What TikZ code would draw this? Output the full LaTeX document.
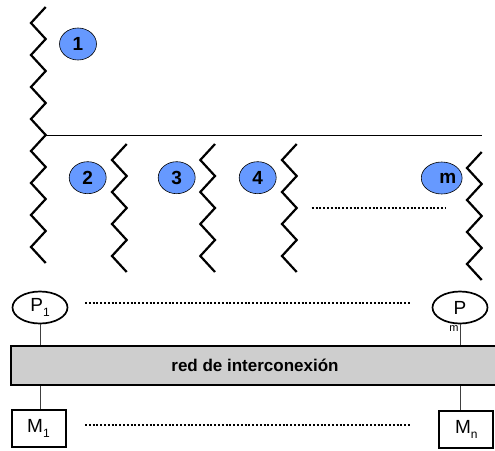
\documentclass[tikz,border=0pt]{standalone}
\usepackage{fontspec}
\setmainfont{Liberation Sans}
\usepackage{tikz}
\usetikzlibrary{shapes.geometric,positioning}
\definecolor{numblue}{RGB}{102,153,255}
\definecolor{netgray}{RGB}{206,206,206}
\newcommand\lowidx[1]{\raisebox{-5pt}{\fontsize{12}{12}\selectfont #1}}
\tikzset{
    % 锯齿线
    sawline/.style={line width=2.2pt, black, line join=miter},
    numcircle/.style={ellipse, draw=black, line width=0.6pt, fill=numblue,
        minimum width=37pt, minimum height=32pt, inner sep=0pt,
        font=\fontsize{19}{19}\selectfont\bfseries},
    proc/.style={ellipse, draw=black, line width=1.7pt, minimum width=55pt,
        minimum height=32pt, inner sep=0pt, font=\fontsize{19}{19}\selectfont},
    mem/.style={rectangle, draw=black, line width=2pt, minimum width=54pt,
        minimum height=37pt, inner sep=0pt, font=\fontsize{19}{19}\selectfont},
    wire/.style={line width=0.8pt, black!75},
    dotline/.style={line width=2.2pt, dash pattern=on 2pt off 1.8pt}
}
\begin{document}
\begin{tikzpicture}[x=1pt,y=-1pt]
   \useasboundingbox (0,0) rectangle (495,450);
   \path
    (311.7,207.7) coordinate (d1)
    (445,207.7)   coordinate (d2)
    (85,303)      coordinate (d3)
    (410,303)     coordinate (d4)
    (85,425)      coordinate (d5)
    (410,425)     coordinate (d6)
    ;

   % 主锯齿线和横线
   \draw[sawline] (45.7,7) \foreach \k in {1,...,8} { -- ++(-14.7,16) -- ++(14.7,16) };
   \draw[line width=1pt] (45.7,135) -- (482,135);

   % 下面的锯齿线
   \draw[sawline] (126.7,144) \foreach \k in {1,...,4} { -- ++(-14.7,16) -- ++(14.7,16) };
   \draw[sawline] (215,144)   \foreach \k in {1,...,4} { -- ++(-14.7,16) -- ++(14.7,16) };
   \draw[sawline] (296.7,144) \foreach \k in {1,...,4} { -- ++(-14.7,16) -- ++(14.7,16) };
   \draw[sawline] (481.7,152) \foreach \k in {1,...,4} { -- ++(-14.7,16) -- ++(14.7,16) };

   % 编号
   \node[numcircle] (n1) at (78,44) {1};
   \node[numcircle] (n2) at (87.7,177.7) {2};
   \node[numcircle] (n3) at (176.7,177.7) {3};
   \node[numcircle] (n4) at (257.7,177.7) {4};
   \node[numcircle] (nm) at (441.7,178) {\hspace{12pt}m};
   \draw[dotline] (d1) -- (d2);

   % 处理器, 网络, 存储器
   \node[proc] (P1) at (40,307.5) {P\lowidx{1}};
   \node[proc] (Pm) at (460,307.5) {P};
   \node[font=\fontsize{11}{11}\selectfont] (Pmsub) at (454,329) {m};
   \node[draw, line width=2pt, fill=netgray, minimum width=488pt, minimum height=39pt,
         font=\fontsize{17}{17}\selectfont\bfseries] (red) at (255,365.5) {red de interconexión};
   \node[mem] (M1) at (38.5,428.5) {M\lowidx{1}};
   \node[mem] (Mn) at (466.3,429) {M\lowidx{n}};

   \draw[wire] (P1.south) -- (P1.south |- red.north);
   \draw[wire] (P1.south |- red.south) -- (P1.south |- M1.north);
   \draw[wire] (Pm.south) -- (Pm.south |- red.north);
   \draw[wire] (Pm.south |- red.south) -- (Pm.south |- Mn.north);

   \draw[dotline] (d3) -- (d4);
   \draw[dotline] (d5) -- (d6);
\end{tikzpicture}
\end{document}
